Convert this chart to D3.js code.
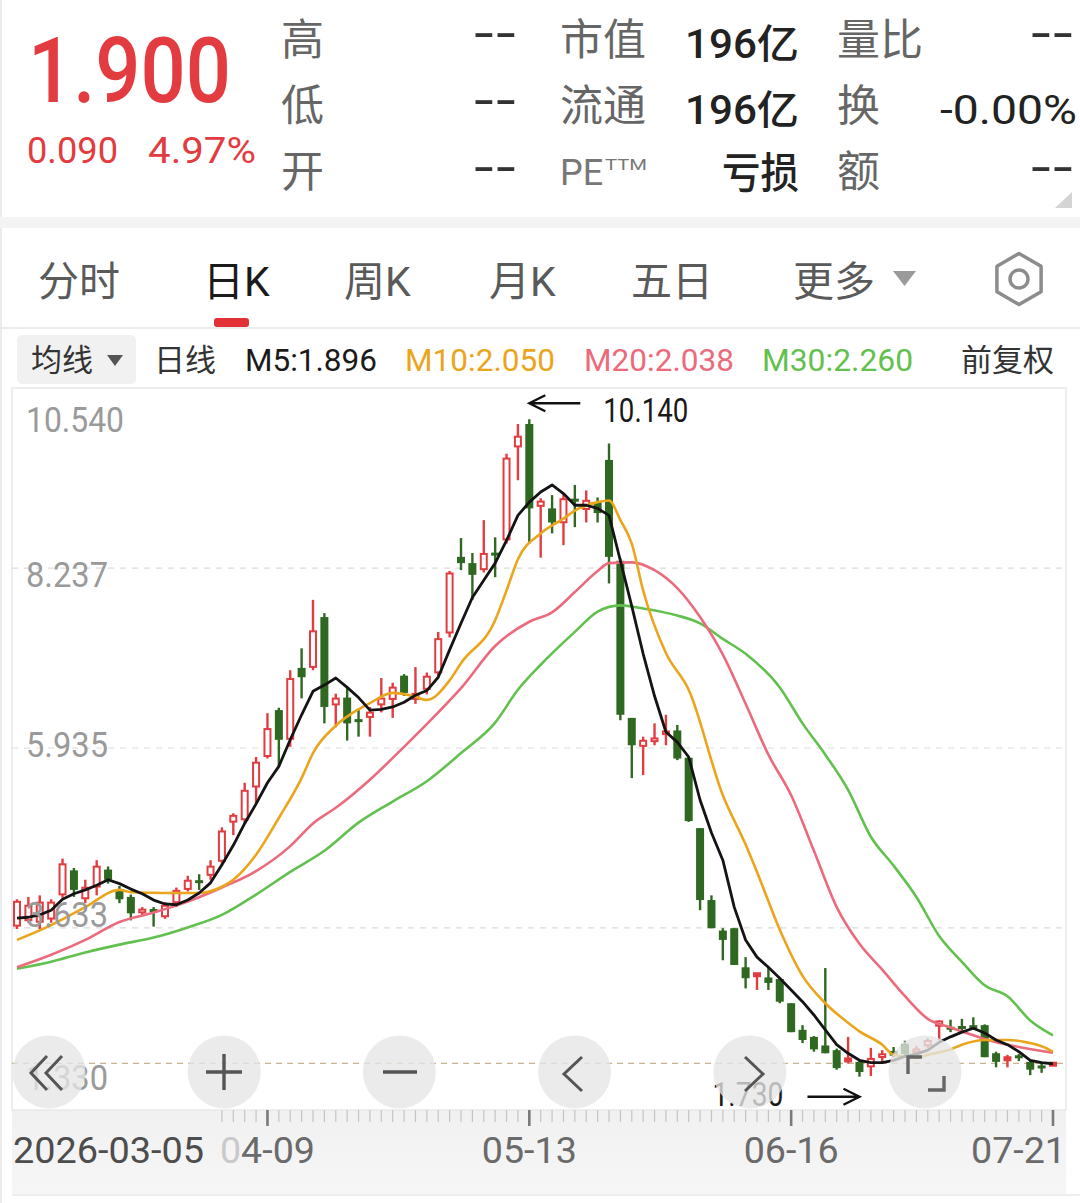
<!DOCTYPE html>
<html>
<head>
<meta charset="utf-8">
<title>日K</title>
<script src="https://cdn.jsdelivr.net/npm/d3@7"></script>
<style>
  body { margin: 0; background: #fff; }
  svg { display: block; }
  text { font-family: Roboto, 'Noto Sans CJK SC', sans-serif; }
</style>
</head>
<body>
<svg id="canvas" width="1080" height="1203"></svg>
<script>
// ---------- data ----------
const firstDate = '2026-03-05';
const tickIndex = [22, 45, 68, 91];
const tickLabels = ['04-09', '05-13', '06-16', '07-21'];
const yTickValues = [10.540, 8.237, 5.935, 3.633, 1.330];
const lastPrice = 1.900;

const opens = [3.65,3.72,3.70,3.74,4.05,4.37,4.00,4.15,4.38,4.12,
  4.03,3.82,3.88,3.77,3.95,4.12,4.25,4.30,4.48,4.98,
  5.01,5.43,5.82,6.42,6.04,6.96,6.96,7.61,6.48,6.58,
  6.30,6.32,6.48,6.55,6.86,6.55,6.68,6.89,7.40,8.38,
  8.30,8.21,8.43,8.59,9.78,10.08,9.02,9.00,8.81,9.13,
  8.98,9.08,9.62,8.33,6.32,5.95,6.01,6.10,6.16,5.81,
  4.91,3.99,3.60,3.63,3.13,3.02,3.00,2.98,2.67,2.33,
  2.24,2.13,2.07,1.92,1.92,1.85,1.97,2.06,2.15,2.03,
  2.12,2.37,2.37,2.38,2.39,2.39,2.03,1.94,2.01,1.92,
  1.88,1.88];
const highs = [4.00,4.03,4.05,4.00,4.52,4.40,4.25,4.50,4.42,4.17,
  4.06,3.90,3.90,3.96,4.15,4.30,4.32,4.50,4.92,5.10,
  5.49,5.82,6.38,6.45,6.93,7.21,7.83,7.66,6.63,6.70,
  6.42,6.46,6.83,6.77,6.88,6.97,6.90,7.42,8.20,8.62,
  8.43,8.85,8.63,9.70,10.08,10.14,9.13,9.17,9.19,9.30,
  9.23,9.14,9.83,8.36,6.32,6.08,6.25,6.36,6.23,5.82,
  4.91,4.05,3.63,3.63,3.26,3.05,3.12,3.00,2.67,2.39,
  2.25,3.12,2.09,2.24,1.94,2.10,2.07,2.11,2.19,2.12,
  2.22,2.45,2.46,2.47,2.49,2.40,2.05,2.01,2.02,1.94,
  1.90,1.91];
const lows = [3.62,3.70,3.62,3.70,4.02,4.03,3.95,4.05,4.20,3.95,
  3.73,3.80,3.65,3.75,3.90,4.10,4.12,4.25,4.45,4.82,
  4.97,5.23,5.80,5.69,5.95,6.57,6.93,6.25,6.20,6.03,
  6.08,6.08,6.39,6.32,6.60,6.50,6.62,6.85,7.35,8.21,
  7.83,8.18,8.12,8.55,9.36,8.55,8.37,8.68,8.53,8.76,
  8.82,8.82,8.04,6.29,5.55,5.59,5.97,5.97,5.78,4.99,
  3.86,3.63,3.22,3.16,2.86,2.84,2.84,2.67,2.30,2.16,
  2.05,2.03,1.82,1.90,1.73,1.74,1.91,1.98,2.00,2.00,
  2.10,2.20,2.30,2.31,2.33,1.98,1.85,1.85,1.93,1.75,
  1.78,1.87];
const closes = [3.98,3.93,3.97,3.97,4.46,4.12,4.16,4.43,4.25,4.00,
  3.82,3.88,3.83,3.93,4.12,4.25,4.20,4.43,4.88,5.08,
  5.40,5.76,6.19,6.04,6.83,6.84,7.44,6.46,6.58,6.25,
  6.27,6.40,6.58,6.72,6.64,6.64,6.86,7.34,8.18,8.30,
  8.15,8.43,8.40,9.65,9.93,9.00,9.10,8.82,9.13,9.08,
  9.11,8.94,8.38,6.36,5.97,6.04,6.07,6.16,5.80,5.00,
  3.99,3.63,3.48,3.16,2.99,3.05,2.93,2.69,2.30,2.20,
  2.08,2.03,1.84,1.97,1.79,1.97,2.03,2.00,2.02,2.09,
  2.20,2.45,2.33,2.34,2.35,1.98,1.92,1.98,1.96,1.82,
  1.83,1.90];

// moving averages
const ma5 = [3.76,3.77,3.80,3.86,4.00,4.07,4.12,4.18,4.25,4.20,
  4.13,4.07,3.99,3.94,3.93,3.99,4.08,4.21,4.44,4.69,
  4.97,5.22,5.49,5.70,6.04,6.36,6.66,6.74,6.83,6.71,
  6.58,6.42,6.43,6.46,6.52,6.61,6.67,6.84,7.19,7.53,
  7.86,8.08,8.30,8.59,8.91,9.08,9.21,9.30,9.19,9.04,
  9.04,9.00,8.91,8.33,7.75,7.14,6.60,6.14,6.01,5.82,
  5.27,4.85,4.50,3.90,3.48,3.26,3.13,2.99,2.84,2.69,
  2.52,2.33,2.14,2.03,1.94,1.91,1.91,1.94,1.99,2.02,
  2.07,2.17,2.24,2.30,2.35,2.29,2.20,2.14,2.05,1.94,
  1.91,1.896];
const ma10 = [[0,3.48],[3,3.67],[6,3.90],[9,4.12],[10,4.09],[13,4.08],[16,4.08],
  [18,4.16],[19,4.25],[21,4.57],[23,5.04],[25,5.55],[26,5.87],[28,6.22],[30,6.43],
  [31,6.51],[33,6.64],[35,6.59],[36,6.55],[38,6.80],[39,7.02],[42,7.57],[43,7.95],
  [44,8.35],[46,8.68],[48,8.87],[49,8.97],[51,9.08],[52,9.10],[53,8.85],[54,8.55],
  [55,7.95],[57,7.15],[59,6.68],[62,5.33],[64,4.70],[65,4.35],[67,3.61],[69,3.02],
  [71,2.67],[73,2.42],[74,2.31],[76,2.14],[77,2.01],[79,1.97],[80,2.01],[82,2.08],
  [83,2.14],[85,2.20],[87,2.20],[89,2.16],[90,2.12],[91,2.05]];
const ma20 = [[0,3.13],[3,3.29],[6,3.48],[9,3.71],[12,3.83],[15,3.97],[18,4.15],
  [21,4.36],[24,4.68],[26,4.97],[28,5.17],[31,5.53],[34,5.95],[37,6.39],[39,6.70],
  [42,7.24],[45,7.55],[47,7.67],[49,7.93],[51,8.20],[52,8.30],[54,8.31],[56,8.21],
  [58,7.98],[60,7.61],[62,7.13],[64,6.50],[66,5.85],[68,5.33],[70,4.62],[72,3.90],
  [74,3.43],[76,3.10],[78,2.76],[80,2.47],[82,2.36],[84,2.26],[86,2.17],[88,2.11],
  [90,2.06],[91,2.038]];
const ma30 = [[0,3.11],[3,3.20],[6,3.32],[9,3.42],[12,3.51],[15,3.64],[18,3.80],
  [21,4.06],[24,4.35],[27,4.62],[30,4.98],[33,5.25],[36,5.51],[39,5.87],[42,6.26],
  [44,6.68],[46,7.00],[49,7.42],[51,7.68],[53,7.76],[55,7.72],[58,7.63],[60,7.53],
  [62,7.33],[64,7.14],[67,6.71],[69,6.25],[71,5.85],[73,5.40],[75,4.80],[77,4.43],
  [79,4.03],[81,3.53],[83,3.20],[85,2.90],[87,2.76],[89,2.45],[91,2.26]];

const maNames = ['M5', 'M10', 'M20', 'M30'];
const maLast = [1.896, 2.050, 2.038, 2.260];

const quote = { price: '1.900', change: '0.090', pct: '4.97%' };
const statLabels = [['高', '低', '开'], ['市值', '流通', 'PE'], ['量比', '换', '额']];
const statValues = [['--', '--', '--'], ['196亿', '196亿', '亏损'], ['--', '-0.00%', '--']];
const tabs = ['分时', '日K', '周K', '月K', '五日', '更多'];

// ---------- setup ----------
const red = '#e23c40', green = '#2f6820';
const maColors = ['#141414', '#eaa51d', '#eb6b7d', '#62c14e'];
const svg = d3.select('#canvas');

const pL = 12, pR = 1066, pT = 388, pB = 1108;
const x = d3.scaleLinear().domain([0, closes.length - 1]).range([17, 1053]);
const y = d3.scaleLinear().domain([1.330, 10.540]).range([pB, pT]);

const addText = function(g, t, o) {
  const el = g.append('text').attr('x', o.x).attr('y', o.y)
      .attr('font-size', o.s).attr('fill', o.c || '#333')
      .attr('font-weight', o.w || 400)
      .attr('text-anchor', o.a || 'start')
      .text(t);
  if (o.L) el.attr('textLength', o.L).attr('lengthAdjust', 'spacingAndGlyphs');
  return el;
};

// page edge
svg.append('line').attr('x1', 1).attr('x2', 1).attr('y1', 0).attr('y2', 1203)
    .attr('stroke', '#ececec').attr('stroke-width', 2);

// ---------- header ----------
const head = svg.append('g');
addText(head, quote.price, { x: 28, y: 102, s: 90, c: red, w: 500, L: 203 });
addText(head, quote.change, { x: 27, y: 163, s: 36, c: red, L: 91 });
addText(head, quote.pct, { x: 148, y: 163, s: 36, c: red, L: 108 });

const rowBase = [55, 121, 187];
const dashBase = [48, 115, 182];
statLabels[0].forEach((t, r) => addText(head, t, { x: 281, y: rowBase[r], s: 43, c: '#666' }));
statValues[0].forEach((t, r) => addText(head, t, { x: 517, y: dashBase[r], s: 40, c: '#333', w: 500, a: 'end', L: 44 }));
statLabels[1].forEach((t, r) => {
  if (t === 'PE') {
    addText(head, 'PE', { x: 560, y: 185, s: 36, c: '#777' });
    addText(head, 'TTM', { x: 605, y: 170, s: 14, c: '#777', L: 42 });
  } else {
    addText(head, t, { x: 560, y: rowBase[r], s: 43, c: '#666' });
  }
});
statValues[1].forEach((t, r) => {
  const latin = /\d/.test(t);
  addText(head, t, { x: 799, y: latin ? rowBase[r] + 3 : rowBase[r] + 1, s: latin ? 40 : 42,
    c: '#222', w: 500, a: 'end', L: latin ? 114 : 77 });
});
statLabels[2].forEach((t, r) => addText(head, t, { x: 837, y: rowBase[r], s: 43, c: '#666' }));
statValues[2].forEach((t, r) => {
  if (t === '--') addText(head, t, { x: 1074, y: dashBase[r], s: 40, c: '#333', w: 500, a: 'end', L: 44 });
  else addText(head, t, { x: 1077, y: rowBase[r] + 3, s: 40, c: '#222', a: 'end', L: 137 });
});
head.append('path').attr('d', 'M1072,192 L1072,208 L1055,208 Z').attr('fill', '#d4d4d4');

// grey separator band
svg.append('rect').attr('x', 0).attr('y', 217).attr('width', 1080).attr('height', 11).attr('fill', '#f3f3f3');

// ---------- tabs ----------
const tabX = [38, 203, 344, 489, 631, 793];
tabs.forEach((t, i) => addText(svg, t, { x: tabX[i], y: 296, s: 41,
  c: i === 1 ? '#1a1a1a' : '#5a5a5a' }));
svg.append('path').attr('d', 'M893,271 L916,271 L904.5,286 Z').attr('fill', '#9a9a9a');
svg.append('rect').attr('x', 214).attr('y', 318).attr('width', 35).attr('height', 9)
    .attr('rx', 3).attr('fill', '#e23036');
const hex = d3.range(6).map(k => {
  const a = (Math.PI / 3) * k - Math.PI / 2;
  return [1019 + 25.5 * Math.cos(a), 279 + 25.5 * Math.sin(a)];
});
svg.append('path').attr('d', 'M' + hex.join('L') + 'Z').attr('fill', 'none')
    .attr('stroke', '#8c8c8c').attr('stroke-width', 3.5).attr('stroke-linejoin', 'round');
svg.append('circle').attr('cx', 1019).attr('cy', 279).attr('r', 9).attr('fill', 'none')
    .attr('stroke', '#8c8c8c').attr('stroke-width', 3.5);
svg.append('line').attr('x1', 0).attr('x2', 1080).attr('y1', 328).attr('y2', 328)
    .attr('stroke', '#e6e6e6').attr('stroke-width', 1.5);

// ---------- legend row ----------
svg.append('rect').attr('x', 17).attr('y', 335).attr('width', 119).attr('height', 49)
    .attr('rx', 5).attr('fill', '#f1f1f1');
addText(svg, '均线', { x: 31, y: 371, s: 31, c: '#333' });
svg.append('path').attr('d', 'M107,355 L123,355 L115,366 Z').attr('fill', '#555');
addText(svg, '日线', { x: 154, y: 371, s: 31, c: '#333' });
const legX = [245, 405, 584, 762], legL = [132, 150, 150, 151];
maNames.forEach((n, i) => addText(svg, n + ':' + d3.format('.3f')(maLast[i]),
  { x: legX[i], y: 371, s: 31, c: i === 0 ? '#1a1a1a' : maColors[i], L: legL[i] }));
addText(svg, '前复权', { x: 961, y: 371, s: 31, c: '#333' });

// ---------- plot frame & grid ----------
const defs = svg.append('defs');
defs.append('clipPath').attr('id', 'plotClip')
  .append('rect').attr('x', pL).attr('y', pT).attr('width', pR - pL).attr('height', pB - pT + 2);

const band = defs.append('linearGradient').attr('id', 'bandGrad')
    .attr('x1', 0).attr('y1', 0).attr('x2', 0).attr('y2', 1);
band.append('stop').attr('offset', '0%').attr('stop-color', '#f1f1f1');
band.append('stop').attr('offset', '100%').attr('stop-color', '#f6f6f6');
svg.append('rect').attr('x', pL).attr('y', pB + 2).attr('width', pR - pL)
    .attr('height', 1194 - pB - 2).attr('fill', 'url(#bandGrad)');
svg.append('line').attr('x1', pL).attr('x2', 1080).attr('y1', 1195).attr('y2', 1195)
    .attr('stroke', '#e8e8e8').attr('stroke-width', 1.5);

svg.append('rect').attr('x', pL).attr('y', pT).attr('width', pR - pL)
    .attr('height', pB - pT + 2).attr('fill', 'none').attr('stroke', '#e8e8e8').attr('stroke-width', 1.5);

svg.append('g').selectAll('line').data(yTickValues.slice(1, 4)).enter().append('line')
    .attr('x1', pL).attr('x2', pR)
    .attr('y1', d => y(d)).attr('y2', d => y(d))
    .attr('stroke', '#dcdcdc').attr('stroke-width', 1.2).attr('stroke-dasharray', '6,6');

const plot = svg.append('g').attr('clip-path', 'url(#plotClip)');

// last price line
plot.append('line').attr('x1', pL).attr('x2', pR)
    .attr('y1', y(lastPrice)).attr('y2', y(lastPrice))
    .attr('stroke', '#c8b38e').attr('stroke-width', 1.3).attr('stroke-dasharray', '6,5');

// ---------- candles ----------
const candles = d3.range(closes.length).map(i => ({ i, o: opens[i], h: highs[i], l: lows[i], c: closes[i] }));
const bodyW = 8;
const bodyTop = d => y(Math.max(d.o, d.c)), bodyBot = d => y(Math.min(d.o, d.c));
const cg = plot.append('g').selectAll('g').data(candles).enter().append('g');
cg.append('line')
    .attr('x1', d => x(d.i)).attr('x2', d => x(d.i))
    .attr('y1', d => y(d.h)).attr('y2', d => y(d.l))
    .attr('stroke', d => d.c >= d.o ? red : green).attr('stroke-width', 2.4);
cg.append('rect')
    .attr('x', d => x(d.i) - bodyW / 2 + (d.c >= d.o ? 1 : 0))
    .attr('width', d => d.c >= d.o ? bodyW - 2 : bodyW)
    .attr('y', d => {
      const t = bodyTop(d), b = bodyBot(d);
      if (b - t < 4) return (t + b) / 2 - 1.5;
      return d.c >= d.o ? t + 1 : t;
    })
    .attr('height', d => {
      const h = bodyBot(d) - bodyTop(d);
      if (h < 4) return 3;
      return d.c >= d.o ? h - 2 : h;
    })
    .attr('fill', d => {
      const h = bodyBot(d) - bodyTop(d);
      if (d.c >= d.o) return h < 4 ? red : '#fff';
      return green;
    })
    .attr('stroke', d => d.c >= d.o ? red : 'none')
    .attr('stroke-width', 2);

// ---------- moving averages ----------
const maSeries = [ma5.map((v, i) => [i, v]), ma10, ma20, ma30];
const maLine = d3.line().x(d => x(d[0])).y(d => y(d[1]));
[3, 2, 1, 0].forEach(k => {
  plot.append('path').datum(maSeries[k])
      .attr('d', maLine.curve(k === 0 ? d3.curveLinear : d3.curveMonotoneX))
      .attr('fill', 'none').attr('stroke', maColors[k])
      .attr('stroke-width', k === 0 ? 2.8 : 2.6)
      .attr('stroke-linejoin', 'round');
});

// ---------- y labels ----------
const yLabelDy = [44, 19, 9, -1, -18];
yTickValues.forEach((v, i) => {
  const s = d3.format('.3f')(v);
  addText(svg, s, { x: 26, y: y(v) + yLabelDy[i], s: 35, c: '#9a9a9a', L: s.length > 5 ? 98 : 82 });
});

// ---------- high / low markers ----------
const iMax = d3.maxIndex(highs), iMin = d3.minIndex(lows);
const ann = svg.append('g').attr('stroke', '#111').attr('stroke-width', 2.4).attr('fill', 'none');
const hy = y(highs[iMax]) - 16, hx = x(iMax);
ann.append('path').attr('d', `M${hx + 51},${hy} L${hx},${hy} M${hx + 16},${hy - 8} L${hx},${hy} L${hx + 16},${hy + 8}`);
addText(svg, d3.format('.3f')(highs[iMax]), { x: hx + 74, y: hy + 19, s: 33, c: '#1a1a1a', L: 85 });
const ly = y(lows[iMin]) + 20, lx = x(iMin);
ann.append('path').attr('d', `M${lx - 52},${ly} L${lx},${ly} M${lx - 16},${ly - 8} L${lx},${ly} L${lx - 16},${ly + 8}`);
addText(svg, d3.format('.3f')(lows[iMin]), { x: lx - 76, y: ly + 9, s: 33, c: '#1a1a1a', a: 'end', L: 71 });

// ---------- x axis ----------
const ticks = svg.append('g');
ticks.selectAll('line').data(d3.range(18, closes.length)).enter().append('line')
    .attr('x1', d => x(d)).attr('x2', d => x(d))
    .attr('y1', pB + 2)
    .attr('y2', d => tickIndex.includes(d) ? pB + 18 : pB + 14)
    .attr('stroke', d => tickIndex.includes(d) ? '#7a7a7a' : '#c4c4c4')
    .attr('stroke-width', d => tickIndex.includes(d) ? 2.6 : 1.2);

addText(svg, firstDate, { x: 13, y: 1163, s: 37, c: '#4d4d4d', L: 191 });
tickIndex.forEach((ix, k) => {
  const last = k === tickIndex.length - 1;
  const t = svg.append('text').attr('x', last ? pR : x(ix)).attr('y', 1163)
      .attr('font-size', 37).attr('text-anchor', last ? 'end' : 'middle')
      .attr('textLength', 95).attr('lengthAdjust', 'spacingAndGlyphs');
  if (k === 0) {
    t.append('tspan').attr('fill', '#c9c9c9').text(tickLabels[k].slice(0, 1));
    t.append('tspan').attr('fill', '#6a6a6a').text(tickLabels[k].slice(1));
  } else {
    t.attr('fill', '#6a6a6a').text(tickLabels[k]);
  }
});

// ---------- overlay buttons ----------
const btnY = 1072;
const btn = svg.append('g');
d3.range(6).forEach(k => {
  btn.append('circle').attr('cx', 49 + k * 175.2).attr('cy', btnY).attr('r', 36.5)
      .attr('fill', '#e6e6e6').attr('fill-opacity', 0.78);
});
const icon = btn.append('g').attr('fill', 'none').attr('stroke', '#555')
    .attr('stroke-width', 3.4).attr('stroke-linecap', 'butt').attr('stroke-linejoin', 'miter');
icon.append('path').attr('d', 'M47,1056 L31,1073 L47,1090 M62,1056 L46,1073 L62,1090').attr('stroke-width', 3);
icon.append('path').attr('d', `M206,${btnY} L242,${btnY} M224,${btnY - 18} L224,${btnY + 18}`);
icon.append('path').attr('d', `M383,${btnY} L417,${btnY}`);
icon.append('path').attr('d', 'M582,1057 L564,1074 L582,1091').attr('stroke-width', 3);
icon.append('path').attr('d', 'M745,1057 L763,1074 L745,1091').attr('stroke-width', 3);
icon.append('path').attr('d', 'M908,1074 L908,1057 L922,1057 M928,1090 L944,1090 L944,1076').attr('stroke', '#666');
</script>
</body>
</html>
